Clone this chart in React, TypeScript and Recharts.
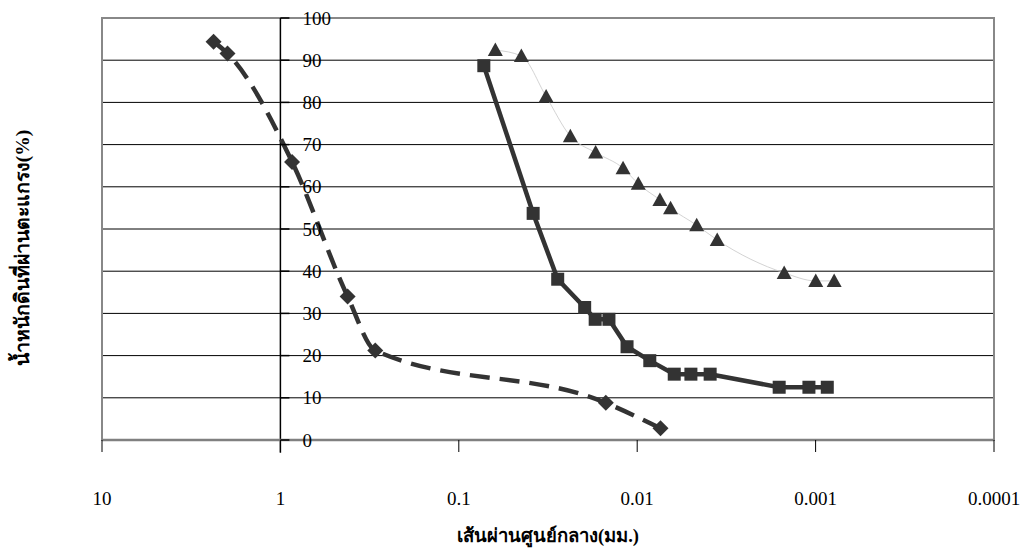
import { LineChart, Line, XAxis, YAxis, CartesianGrid, ReferenceLine, ReferenceDot, ReferenceArea } from 'recharts';

// particle size (mm) vs. percent passing
const DIA_X = [2.37, 1.98, 0.86, 0.42, 0.294, 0.015, 0.0074];
const DIA_Y = [94.4, 91.6, 65.9, 34.0, 21.2, 8.8, 2.8];

const SQ_X = [0.0724, 0.0383, 0.0279, 0.0197, 0.0172, 0.0144, 0.0114, 0.0085, 0.0062, 0.005, 0.0039, 0.0016, 0.00109, 0.00086];
const SQ_Y = [88.7, 53.7, 38.1, 31.4, 28.6, 28.6, 22.1, 18.8, 15.6, 15.6, 15.6, 12.5, 12.5, 12.5];

const TRI_X = [0.0624, 0.0446, 0.0324, 0.0237, 0.0171, 0.012, 0.00986, 0.00746, 0.0065, 0.00464, 0.00356, 0.0015, 0.000998, 0.000787];
const TRI_Y = [92.4, 91.0, 81.4, 72.0, 68.1, 64.4, 60.7, 56.9, 54.9, 50.9, 47.4, 39.6, 37.7, 37.7];

const X_TICKS = [10, 1, 0.1, 0.01, 0.001, 0.0001];
const Y_TICKS = [0, 10, 20, 30, 40, 50, 60, 70, 80, 90, 100];

const X_TITLE = 'เส้นผ่านศูนย์กลาง(มม.)';
const Y_TITLE = 'น้ำหนักดินที่ผ่านตะแกรง(%)';

const FONT = "'Liberation Serif', 'Times New Roman', serif";
const INK = '#333';

const toPts = (xs: number[], ys: number[]) => xs.map((x, i) => ({ x, y: ys[i] }));

const Diamond = (p: any) => {
  const { cx, cy } = p;
  if (cx == null || cy == null) return null;
  return <polygon key={`d${p.index}`} points={`${cx},${cy - 8} ${cx + 8},${cy} ${cx},${cy + 8} ${cx - 8},${cy}`} fill={INK} />;
};

const Square = (p: any) => {
  const { cx, cy } = p;
  if (cx == null || cy == null) return null;
  return <rect key={`s${p.index}`} x={cx - 6.5} y={cy - 6.5} width={13} height={13} fill={INK} />;
};

const Triangle = (p: any) => {
  const { cx, cy } = p;
  if (cx == null || cy == null) return null;
  return <polygon key={`t${p.index}`} points={`${cx},${cy - 7.5} ${cx + 7.5},${cy + 6} ${cx - 7.5},${cy + 6}`} fill={INK} />;
};

const fmtX = (v: number) => String(v);

export default function App() {
  return (
    <div style={{ position: 'absolute', left: 0, top: 0, width: 1026, height: 551, background: '#fff' }}>
      <LineChart width={1026} height={551} margin={{ top: 18, right: 32, bottom: 0, left: 102 }}>
        <CartesianGrid vertical={false} stroke="#000" strokeWidth={1} />
        <ReferenceArea x1={10} x2={0.0001} y1={0} y2={100} fill="none" stroke="#888" strokeWidth={2} />
        <XAxis
          dataKey="x"
          type="number"
          scale="log"
          domain={[0.0001, 10]}
          reversed
          ticks={X_TICKS}
          tickFormatter={fmtX}
          allowDataOverflow
          height={111}
          tickSize={12}
          tickMargin={40}
          axisLine={{ stroke: '#808080', strokeWidth: 2.5 }}
          tickLine={{ stroke: '#000' }}
          tick={{ fill: '#000', fontSize: 19, fontFamily: FONT }}
          label={{ value: X_TITLE, position: 'insideBottom', offset: 9, fill: '#000', fontSize: 18.5, fontWeight: 'bold', fontFamily: FONT }}
        />
        <YAxis type="number" domain={[0, 100]} ticks={Y_TICKS} hide />
        <ReferenceLine
          segment={[{ x: 1, y: -3 }, { x: 1, y: 100 }]}
          ifOverflow="visible"
          stroke="#000"
          strokeWidth={1.5}
        />
        {Y_TICKS.map((v) => (
          <ReferenceDot
            key={v}
            x={1}
            y={v}
            r={0}
            ifOverflow="visible"
            shape={(p: any) => (
              <g>
                <line x1={p.cx} x2={p.cx + 9} y1={p.cy} y2={p.cy} stroke="#000" strokeWidth={1.5} />
                <text x={p.cx + 22} y={p.cy} dy="0.35em" textAnchor="start" fontSize={19} fontFamily={FONT} fill="#000">
                  {v}
                </text>
              </g>
            )}
          />
        ))}
        <Line
          data={toPts(TRI_X, TRI_Y)}
          dataKey="y"
          type="monotone"
          stroke="#c8c8c8"
          strokeWidth={0.8}
          dot={Triangle}
          activeDot={false}
          isAnimationActive={false}
        />
        <Line
          data={toPts(SQ_X, SQ_Y)}
          dataKey="y"
          type="linear"
          stroke={INK}
          strokeWidth={4.5}
          dot={Square}
          activeDot={false}
          isAnimationActive={false}
        />
        <Line
          data={toPts(DIA_X, DIA_Y)}
          dataKey="y"
          type="monotone"
          stroke={INK}
          strokeWidth={4.5}
          strokeDasharray="20 10"
          dot={Diamond}
          activeDot={false}
          isAnimationActive={false}
        />
      </LineChart>
      <div
        style={{
          position: 'absolute',
          left: 22,
          top: 248,
          transform: 'translate(-50%, -50%) rotate(-90deg)',
          whiteSpace: 'nowrap',
          fontFamily: FONT,
          fontWeight: 'bold',
          fontSize: 19.5,
          color: '#000',
        }}
      >
        {Y_TITLE}
      </div>
    </div>
  );
}
